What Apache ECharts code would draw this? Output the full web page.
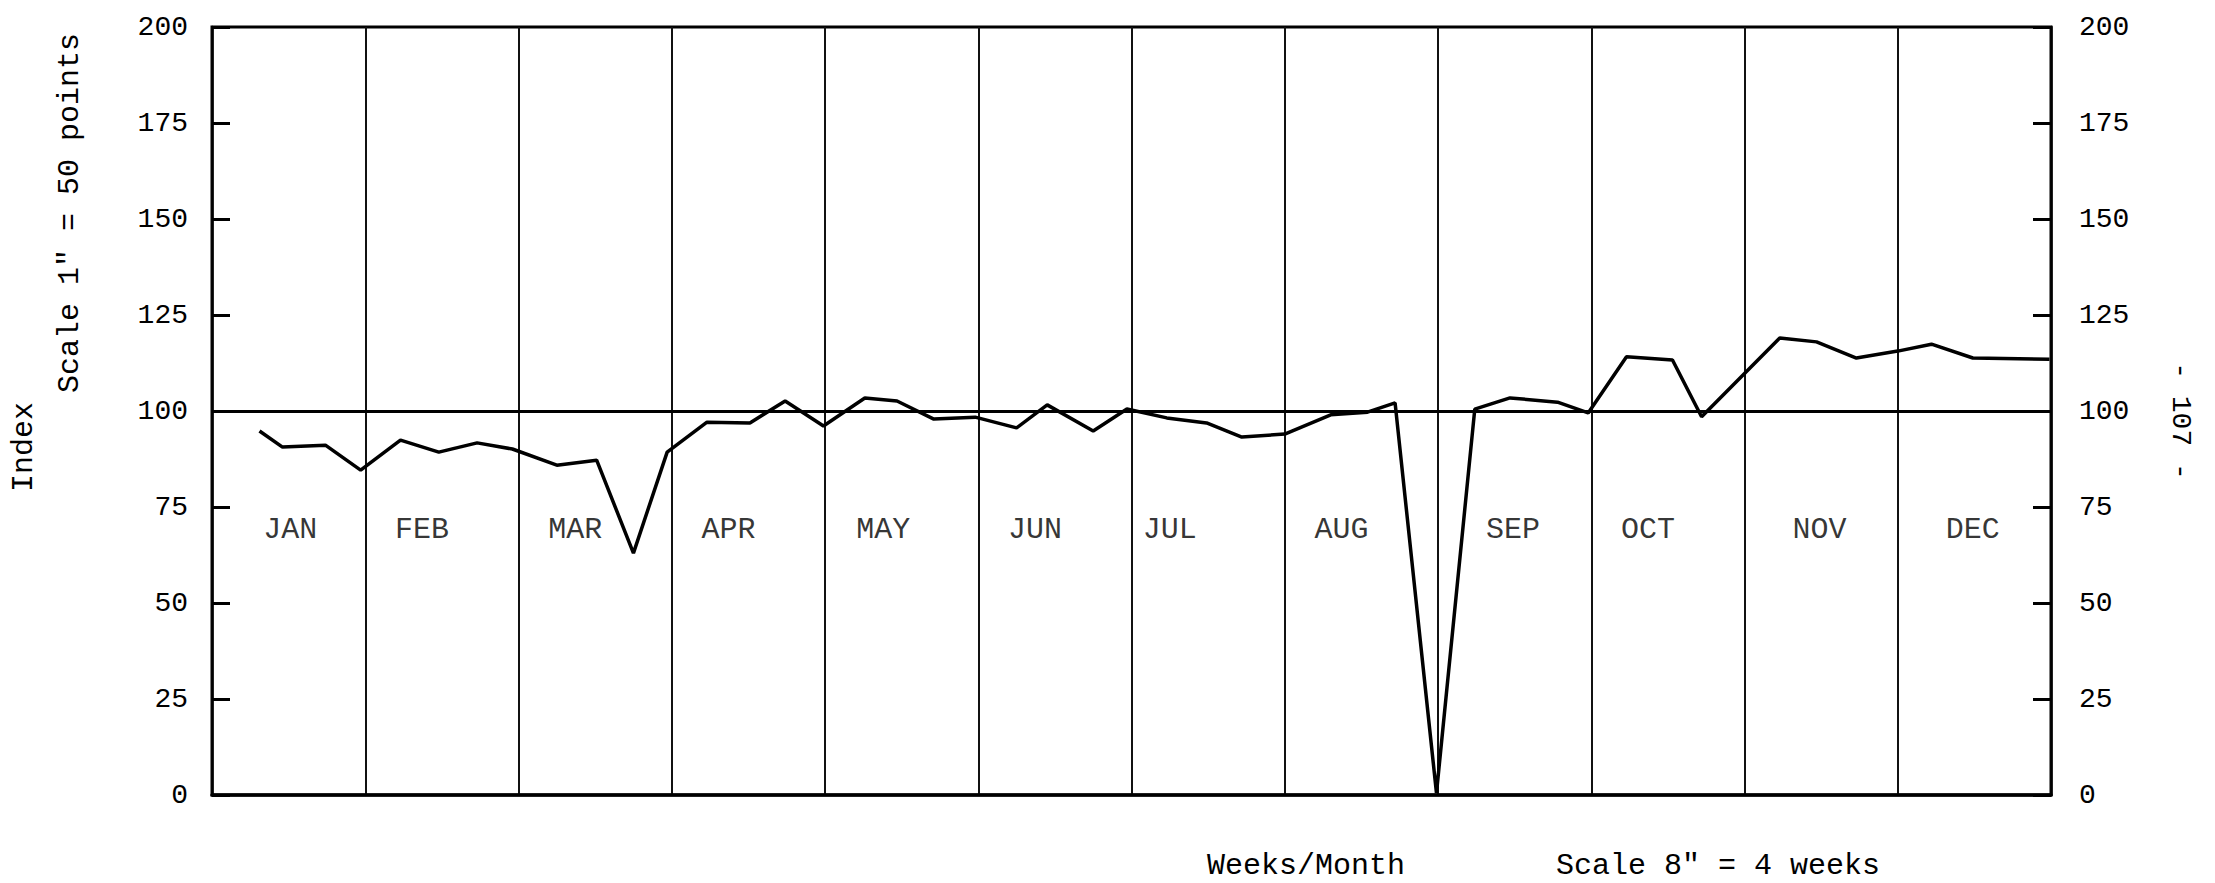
<!DOCTYPE html>
<html lang="en">
<head>
  <meta charset="UTF-8">
  <script src="https://cdn.jsdelivr.net/npm/echarts/dist/echarts.min.js"></script>
  <title>Index by week</title>
  <style>
    * {margin: 0; padding: 0;}
    html, body {width: 100%; height: 100%; overflow: hidden; background: #fff;}
    #chart {width: 2215px; height: 883px;}
  </style>
</head>
<body>
  <div id="chart"></div>
<script>
// months along the x axis (one unit = one month)
var months = ['JAN', 'FEB', 'MAR', 'APR', 'MAY', 'JUN', 'JUL', 'AUG', 'SEP', 'OCT', 'NOV', 'DEC']
// where each month name is typed, in month units
var monthLabelPos = [0.51, 1.37, 2.37, 3.37, 4.38, 5.37, 6.25, 7.37, 8.49, 9.37, 10.49, 11.49]
var monthLabelLevel = 69

// weekly readings: position in month units, index value
var weekPos = [0.31, 0.46, 0.74, 0.97, 1.23, 1.48, 1.73, 1.96, 2.25, 2.51, 2.75, 2.97,
  3.23, 3.51, 3.74, 3.99, 4.26, 4.47, 4.71, 4.98, 5.25, 5.45, 5.75, 5.97,
  6.23, 6.49, 6.72, 7.00, 7.30, 7.54, 7.72, 7.99, 8.24, 8.47, 8.78, 8.98,
  9.23, 9.53, 9.72, 10.23, 10.47, 10.73, 11.00, 11.22, 11.49, 11.99]
var indexValues = [94.8, 90.6, 91.1, 84.6, 92.4, 89.3, 91.7, 90.1, 85.9, 87.2, 63.0, 89.3,
  97.1, 96.9, 102.6, 96.1, 103.4, 102.6, 97.9, 98.4, 95.6, 101.6, 94.8, 100.5,
  98.2, 96.9, 93.2, 94.0, 99.0, 99.7, 102.1, 0.5, 100.5, 103.4, 102.3, 99.5,
  114.1, 113.3, 98.5, 119.0, 118.0, 113.8, 115.6, 117.4, 113.8, 113.5]

var baseLevel = 100
var yMin = 0, yMax = 200, yStep = 25

var font = '"Liberation Mono", "DejaVu Sans Mono", monospace'
var ink = '#000'

function yAxisOf (side, margin) {
  return {
    type: 'value',
    position: side,
    min: yMin,
    max: yMax,
    interval: yStep,
    axisLine: {show: true, lineStyle: {color: ink, width: 2.5}},
    axisTick: {show: true, inside: true, length: 18, lineStyle: {color: ink, width: 3}},
    axisLabel: {margin: margin, fontSize: 28, fontFamily: font, color: ink},
    splitLine: {show: false}
  }
}

function textAt (str, x, y, rot, size) {
  return {
    type: 'text', x: x, y: y, rotation: rot || 0, silent: true,
    style: {text: str, fontSize: size || 30, fontFamily: font, fill: ink, align: 'center', verticalAlign: 'middle'}
  }
}

var chart = echarts.init(document.getElementById('chart'), null, {renderer: 'svg'})
chart.setOption({
  animation: false,
  backgroundColor: '#fff',
  grid: {left: 212, right: 164, top: 27, bottom: 88, show: true, borderColor: ink, borderWidth: 3},
  xAxis: {
    type: 'value',
    min: 0,
    max: months.length,
    interval: 1,
    axisLine: {show: true, onZero: false, lineStyle: {color: ink, width: 3.5}},
    axisTick: {show: false},
    axisLabel: {show: false},
    splitLine: {show: true, lineStyle: {color: '#111', width: 2}}
  },
  yAxis: [yAxisOf('left', 24), yAxisOf('right', 28)],
  graphic: [
    textAt('Index', 24, 447, Math.PI / 2),
    textAt('Scale 1" = 50 points', 70, 213, Math.PI / 2),
    textAt('- 107 -', 2180, 421, -Math.PI / 2, 28),
    textAt('Weeks/Month', 1306, 866),
    textAt('Scale 8" = 4 weeks', 1718, 866)
  ],
  series: [
    {
      type: 'line',
      yAxisIndex: 0,
      silent: true,
      symbol: 'none',
      lineStyle: {color: ink, width: 3.5},
      data: weekPos.map(function (x, i) { return [x, indexValues[i]] }),
      markLine: {
        silent: true,
        symbol: 'none',
        label: {show: false},
        lineStyle: {color: ink, width: 3, type: 'solid'},
        data: [{yAxis: baseLevel}]
      }
    },
    {
      type: 'scatter',
      yAxisIndex: 0,
      silent: true,
      symbolSize: 1,
      itemStyle: {color: 'transparent'},
      label: {
        show: true,
        position: 'inside',
        fontSize: 30,
        fontFamily: font,
        color: ink,
        formatter: function (p) { return p.data[2] }
      },
      data: monthLabelPos.map(function (x, i) { return [x, monthLabelLevel, months[i]] })
    }
  ]
})
</script>
</body>
</html>
